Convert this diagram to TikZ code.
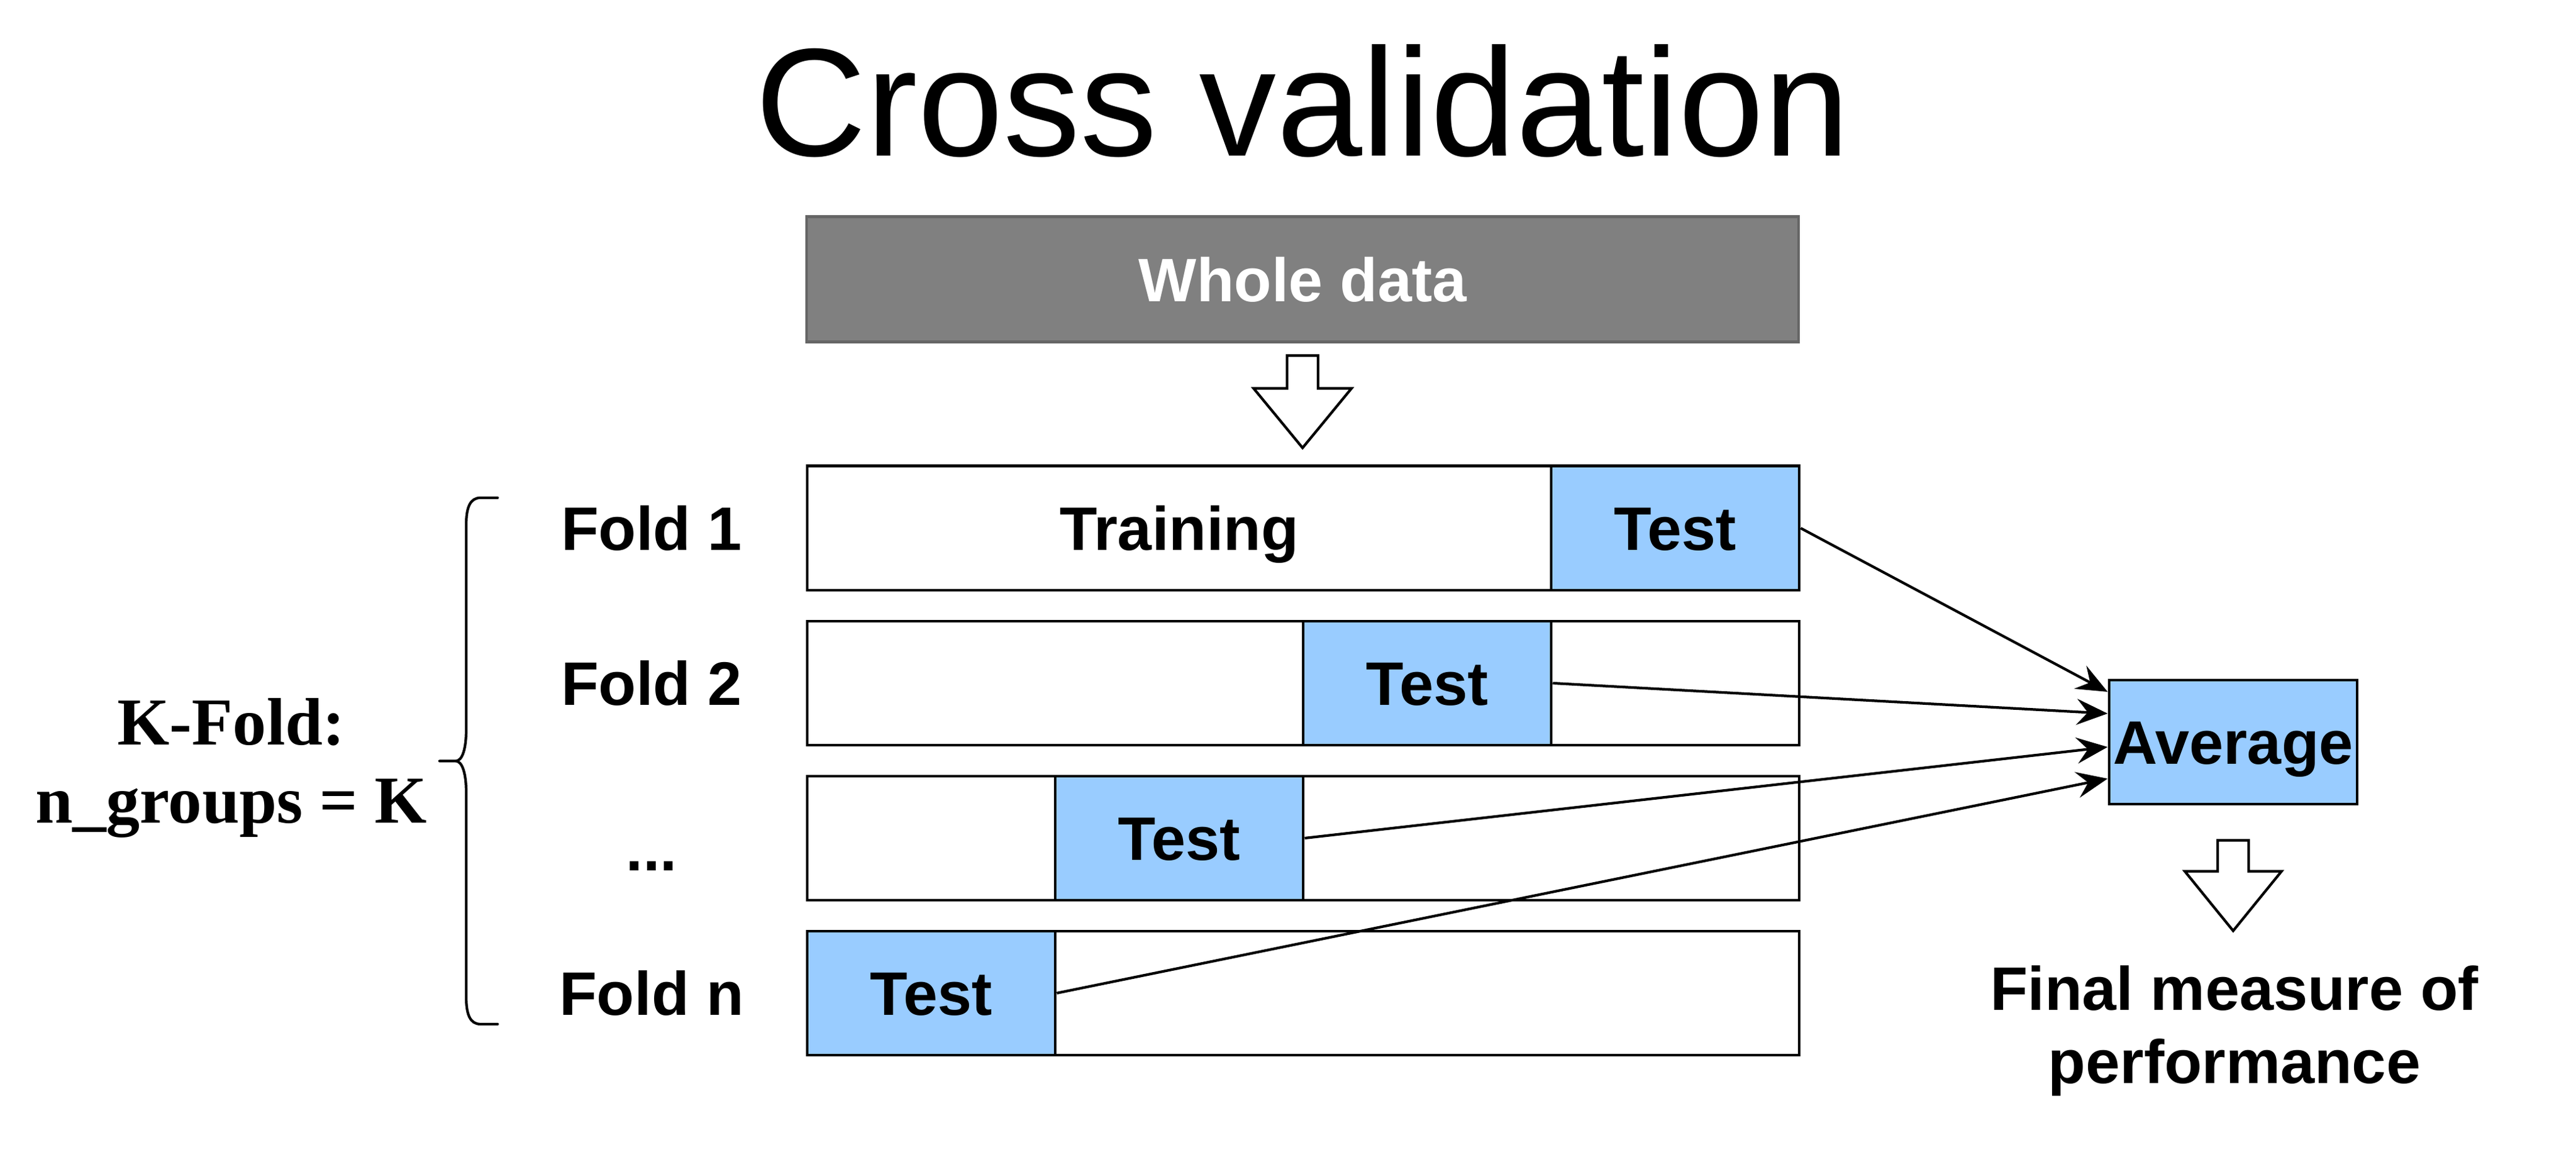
\documentclass[tikz,border=0pt]{standalone}
\usepackage{fontspec}
\setmainfont{Liberation Serif}
\setsansfont{Liberation Sans}
\definecolor{TestColor}{RGB}{153,204,255}
\definecolor{WholeColor}{RGB}{128,128,128}
\definecolor{WholeBorder}{RGB}{102,102,102}
\usetikzlibrary{positioning, arrows.meta, calc}
\tikzstyle{label} = [font=\fontsize{14.1}{16.8}\selectfont\sffamily\bfseries, text height=10.1pt, text depth=0pt, inner sep=0pt]
\tikzstyle{foldbox} = [rectangle, draw, line width=0.7pt, minimum width=8cm, minimum height=1cm, inner sep=0pt]
\tikzstyle{testbox} = [label, rectangle, draw, line width=0.7pt, fill=TestColor, minimum width=2cm, minimum height=1cm]
\tikzstyle{wholebox} = [label, rectangle, draw=WholeBorder, line width=0.7pt, fill=WholeColor, text=white, minimum width=8cm, minimum height=1.01cm]
\tikzstyle{fatarrow} = [draw, line width=0.6pt, fill=white, line join=miter]
\tikzstyle{arrow} = [line width=0.6pt, -{Stealth[length=2.5mm, width=2.1mm, inset=0.9mm]}]

\begin{document}
\begin{tikzpicture}
            \useasboundingbox (0,0) rectangle (20.775,9.275);

            % Title
            \node[font=\fontsize{35.3}{40}\selectfont\sffamily, anchor=base] (title) at (10.505,8.015) {Cross validation};

            % Whole data
            \node[wholebox] (whole) at (10.505,7.02) {Whole data};
            \draw[fatarrow] ($(whole.south)+(-0.125,-0.095)$) -- ++(0.25,0) -- ++(0,-0.265) -- ++(0.27,0)
                -- ++(-0.395,-0.48) -- ++(-0.395,0.48) -- ++(0.27,0) -- cycle;

            % Folds
            \foreach \i/\y/\x in {1/5.015/13.51, 2/3.765/11.51, 3/2.515/9.51, 4/1.265/7.51} {
                    \node[foldbox] (fold\i) at (10.51,\y) {};
                    \node[testbox] (test\i) at (\x,\y) {Test};
                }
            \node[label] (train) at (9.51,5.015) {Training};

            % Fold labels
            \node[label] (lab1) at (5.255,5.015) {Fold 1};
            \node[label] (lab2) at (5.255,3.765) {Fold 2};
            \node[label] (lab3) at (5.255,2.43) {...};
            \node[label] (lab4) at (5.255,1.265) {Fold n};

            % Brace
            \draw[line width=0.6pt, line cap=round] (4.013,5.26) -- (3.875,5.26) .. controls (3.79,5.26) and (3.76,5.18) .. (3.76,5.04)
                -- (3.76,3.39) .. controls (3.76,3.24) and (3.73,3.137) .. (3.675,3.137) -- (3.545,3.137)
                (3.675,3.137) .. controls (3.73,3.137) and (3.76,3.03) .. (3.76,2.885)
                -- (3.76,1.235) .. controls (3.76,1.095) and (3.79,1.015) .. (3.875,1.015) -- (4.013,1.015);
            \node[font=\fontsize{15.4}{18}\selectfont\bfseries, align=center, inner sep=0pt] (kfold) at (1.865,3.08) {K-Fold:\\n\_groups = K};

            % Average
            \node[testbox] (avg) at (18.01,3.29) {Average};
            \draw[arrow] (test1.east) -- ([yshift=0.405cm]avg.west);
            \draw[arrow] (test2.east) -- ([yshift=0.23cm]avg.west);
            \draw[arrow] (test3.east) -- ([yshift=-0.04cm]avg.west);
            \draw[arrow] (test4.east) -- ([yshift=-0.295cm]avg.west);

            % Result
            \draw[fatarrow] ($(avg.south)+(-0.125,-0.28)$) -- ++(0.25,0) -- ++(0,-0.25) -- ++(0.265,0)
                -- ++(-0.39,-0.48) -- ++(-0.39,0.48) -- ++(0.265,0) -- cycle;
            \node[font=\fontsize{14.1}{16.8}\selectfont\sffamily\bfseries, align=center, inner sep=0pt] (final) at (18.02,0.96) {Final measure of\\performance};
        \end{tikzpicture}
\end{document}
